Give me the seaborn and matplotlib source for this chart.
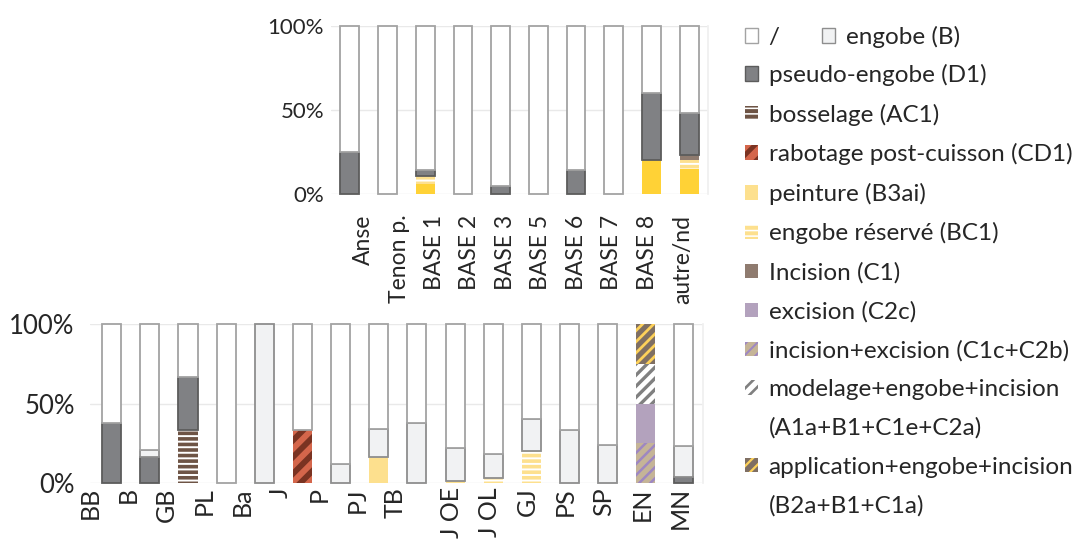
import numpy as np
import matplotlib
matplotlib.use("Agg")
import matplotlib as mpl
import matplotlib.pyplot as plt
import seaborn as sns
from matplotlib.patches import Patch

# ---------------- data ----------------
top_categories = ['Anse', 'Tenon p.', 'BASE 1', 'BASE 2', 'BASE 3', 'BASE 5',
                  'BASE 6', 'BASE 7', 'BASE 8', 'autre/nd']
top_jaune = [0, 0, 6, 0, 0, 0, 0, 0, 20, 15]
top_engobe_reserve = [0, 0, 5, 0, 0, 0, 0, 0, 0, 5]
top_incision = [0, 0, 0, 0, 0, 0, 0, 0, 0, 3]
top_pseudo_engobe = [25, 0, 3, 0, 5, 0, 14, 0, 40, 25]

bottom_categories = ['BB', 'B', 'GB', 'PL', 'Ba', 'J', 'P', 'PJ', 'TB',
                     'J OE', 'J OL', 'GJ', 'PS', 'SP', 'EN', 'MN']
bot_bosselage = [0, 0, 33.3, 0, 0, 0, 0, 0, 0, 0, 0, 0, 0, 0, 0, 0]
bot_rabotage = [0, 0, 0, 0, 0, 33.3, 0, 0, 0, 0, 0, 0, 0, 0, 0, 0]
bot_peinture = [0, 0, 0, 0, 0, 0, 0, 16.6, 0, 1.2, 0, 0, 0, 0, 0, 0]
bot_engobe_reserve = [0, 0, 0, 0, 0, 0, 0, 0, 0, 0, 3, 20, 0, 0, 0, 0]
bot_inc_exc = [0, 0, 0, 0, 0, 0, 0, 0, 0, 0, 0, 0, 0, 0, 25, 0]
bot_excision = [0, 0, 0, 0, 0, 0, 0, 0, 0, 0, 0, 0, 0, 0, 25, 0]
bot_modelage = [0, 0, 0, 0, 0, 0, 0, 0, 0, 0, 0, 0, 0, 0, 25, 0]
bot_application = [0, 0, 0, 0, 0, 0, 0, 0, 0, 0, 0, 0, 0, 0, 25, 0]
bot_pseudo_engobe = [38, 16.5, 33.3, 0, 0, 0, 0, 0, 0, 0, 0, 0, 0, 0, 0, 4]
bot_engobe = [0, 4.5, 0, 0, 100, 0, 11.7, 17.6, 38, 21, 15, 20, 33.3, 24, 0, 19]

legend_labels = ['pseudo-engobe (D1)', 'bosselage (AC1)', 'rabotage post-cuisson (CD1)',
                 'peinture (B3ai)', 'engobe réservé (BC1)', 'Incision (C1)', 'excision (C2c)',
                 'incision+excision (C1c+C2b)', 'modelage+engobe+incision',
                 '(A1a+B1+C1e+C2a)', 'application+engobe+incision', '(B2a+B1+C1a)']

# ---------------- styles ----------------
STY = {
    'white': dict(face='white', edge='#a3a3a3', lw=1.3),
    'engobe': dict(face='#f1f2f3', edge='#8e8e8e', lw=1.3),
    'pseudo': dict(face='#808184', edge='#5c5c5c', lw=1.3),
    'bosselage': dict(face='#6e5445', hatch='---', hcolor='white', hlw=1.4),
    'rabotage': dict(face='#d4664b', hatch='//', hcolor='#7a3322', hlw=4.2),
    'peinture': dict(face='#fde08e'),
    'jaune': dict(face='#ffd236'),
    'reserve': dict(face='#fde08e', hatch='---', hcolor='white', hlw=1.4),
    'incision': dict(face='#8f7b6f'),
    'excision': dict(face='#b3a2bd'),
    'incexc': dict(face='#c5b497', hatch='///', hcolor='#9e87c2', hlw=1.8),
    'modelage': dict(face='white', hatch='///', hcolor='#808080', hlw=2.4),
    'application': dict(face='#7f6f63', hatch='///', hcolor='#fdd15a', hlw=2.0),
}

TXT = '#262626'
GRID = '#e9e9e9'


def hatch_lw(artist, lw):
    if hasattr(artist, 'set_hatch_linewidth'):
        artist.set_hatch_linewidth(lw)
    if hasattr(artist, '_hatch_linewidth'):
        artist._hatch_linewidth = lw
    orig = artist.draw

    def draw(renderer, _orig=orig, _lw=lw):
        with mpl.rc_context({'hatch.linewidth': _lw}):
            _orig(renderer)
    artist.draw = draw


def style_patch(p, key):
    s = STY[key]
    p.set_facecolor(s['face'])
    if 'hatch' in s:
        p.set_edgecolor(s['hcolor'])
        p.set_linewidth(0)
        p.set_hatch(s['hatch'])
        hatch_lw(p, s['hlw'])
    elif 'edge' in s:
        p.set_edgecolor(s['edge'])
        p.set_linewidth(s['lw'])
    else:
        p.set_edgecolor('none')
        p.set_linewidth(0)


def legend_handle(key):
    s = STY[key]
    kw = dict(facecolor=s['face'])
    if 'hatch' in s:
        kw.update(edgecolor=s['hcolor'], linewidth=0, hatch=s['hatch'])
    elif 'edge' in s:
        kw.update(edgecolor=s['edge'], linewidth=1.0)
    else:
        kw.update(edgecolor='none', linewidth=0)
    return Patch(**kw)


def draw_layer(ax, cats, vals, bottom, key, thresh=0.0):
    vals = np.asarray(vals, dtype=float)
    sns.barplot(x=cats, y=vals, bottom=bottom, ax=ax, width=0.5,
                color=STY[key]['face'], saturation=1, errorbar=None, order=cats)
    for p, v in zip(ax.containers[-1].patches, vals):
        style_patch(p, key)
        p.set_clip_on(False)
        if v <= thresh:
            p.set_visible(False)
    return bottom + vals


def stacked(ax, cats, layers):
    bottom = np.zeros(len(cats))
    for key, vals in layers:
        bottom = draw_layer(ax, cats, vals, bottom, key)
    draw_layer(ax, cats, 100 - bottom, bottom, 'white', thresh=0.05)


def finish(ax, cats, shifts, pad, xsize, ysize, ypad):
    n = len(cats)
    ax.set_ylim(0, 100)
    ax.set_xlim(-0.5, n - 0.5)
    ax.set_yticks([0, 50, 100])
    ax.set_yticklabels(['0%', '50%', '100%'])
    ax.set_xticks(np.arange(n) + np.asarray(shifts))
    ax.set_xticklabels(cats, rotation=90)
    ax.set_xticks(np.arange(n + 1) - 0.5, minor=True)
    ax.tick_params(axis='x', which='major', length=0, pad=pad, labelsize=xsize, labelcolor=TXT)
    ax.tick_params(axis='x', which='minor', length=8, width=1, color='#dcdcdc')
    ax.tick_params(axis='y', length=0, pad=ypad, labelsize=ysize, labelcolor=TXT)
    ax.set_xlabel('')
    ax.set_ylabel('')
    for sp in ['top', 'left', 'bottom']:
        ax.spines[sp].set_visible(False)
    ax.spines['right'].set_color('#f0f0f0')
    ax.grid(axis='y', color=GRID, linewidth=1)
    ax.grid(axis='x', visible=False)
    ax.set_axisbelow(True)
    ax.set_facecolor('white')


sns.set_theme(style='white')
plt.rcParams['font.family'] = ['Lato', 'DejaVu Sans']

W, H = 1084, 539
fig = plt.figure(figsize=(W / 100, H / 100), dpi=100)

# top chart (labels in the source sit on a slightly narrower pitch than the bars)
ax1 = fig.add_axes([331 / W, 1 - 194 / H, (708 - 331) / W, (194 - 26) / H])
stacked(ax1, top_categories, [
    ('jaune', top_jaune),
    ('reserve', top_engobe_reserve),
    ('incision', top_incision),
    ('pseudo', top_pseudo_engobe),
])
k1 = np.arange(len(top_categories))
finish(ax1, top_categories, 0.37 - 0.061 * k1, pad=15, xsize=16.5, ysize=16, ypad=5)

# bottom chart
ax2 = fig.add_axes([90 / W, 1 - 483 / H, (703 - 90) / W, (483 - 324) / H])
stacked(ax2, bottom_categories, [
    ('bosselage', bot_bosselage),
    ('rabotage', bot_rabotage),
    ('peinture', bot_peinture),
    ('reserve', bot_engobe_reserve),
    ('incexc', bot_inc_exc),
    ('excision', bot_excision),
    ('modelage', bot_modelage),
    ('application', bot_application),
    ('pseudo', bot_pseudo_engobe),
    ('engobe', bot_engobe),
])
k2 = np.arange(len(bottom_categories))
finish(ax2, bottom_categories, np.where(k2 < 9, -0.57, -0.1), pad=3, xsize=18,
       ysize=18.5, ypad=11)

# legends
blank = Patch(facecolor='none', edgecolor='none', linewidth=0)
keys = ['pseudo', 'bosselage', 'rabotage', 'peinture', 'reserve', 'incision',
        'excision', 'incexc', 'modelage', None, 'application', None]
handles = [legend_handle(k) if k else blank for k in keys]

leg_kw = dict(frameon=False, borderpad=0, borderaxespad=0, handlelength=0.55,
              handleheight=0.55, handletextpad=0.42, fontsize=17.5, labelcolor=TXT)
leg1 = fig.legend([legend_handle('white'), legend_handle('engobe')], ['/', 'engobe (B)'],
                  loc='upper left', bbox_to_anchor=(745 / W, 1 - 26 / H), ncol=2,
                  columnspacing=1.75, **leg_kw)
leg2 = fig.legend(handles, legend_labels, loc='upper left',
                  bbox_to_anchor=(745 / W, 1 - 64 / H), labelspacing=0.72, **leg_kw)
for h, k in zip(leg2.legend_handles, keys):
    if k and 'hatch' in STY[k]:
        hatch_lw(h, STY[k]['hlw'] * 0.8)

fig.savefig('out.png', dpi=100, facecolor='white')
